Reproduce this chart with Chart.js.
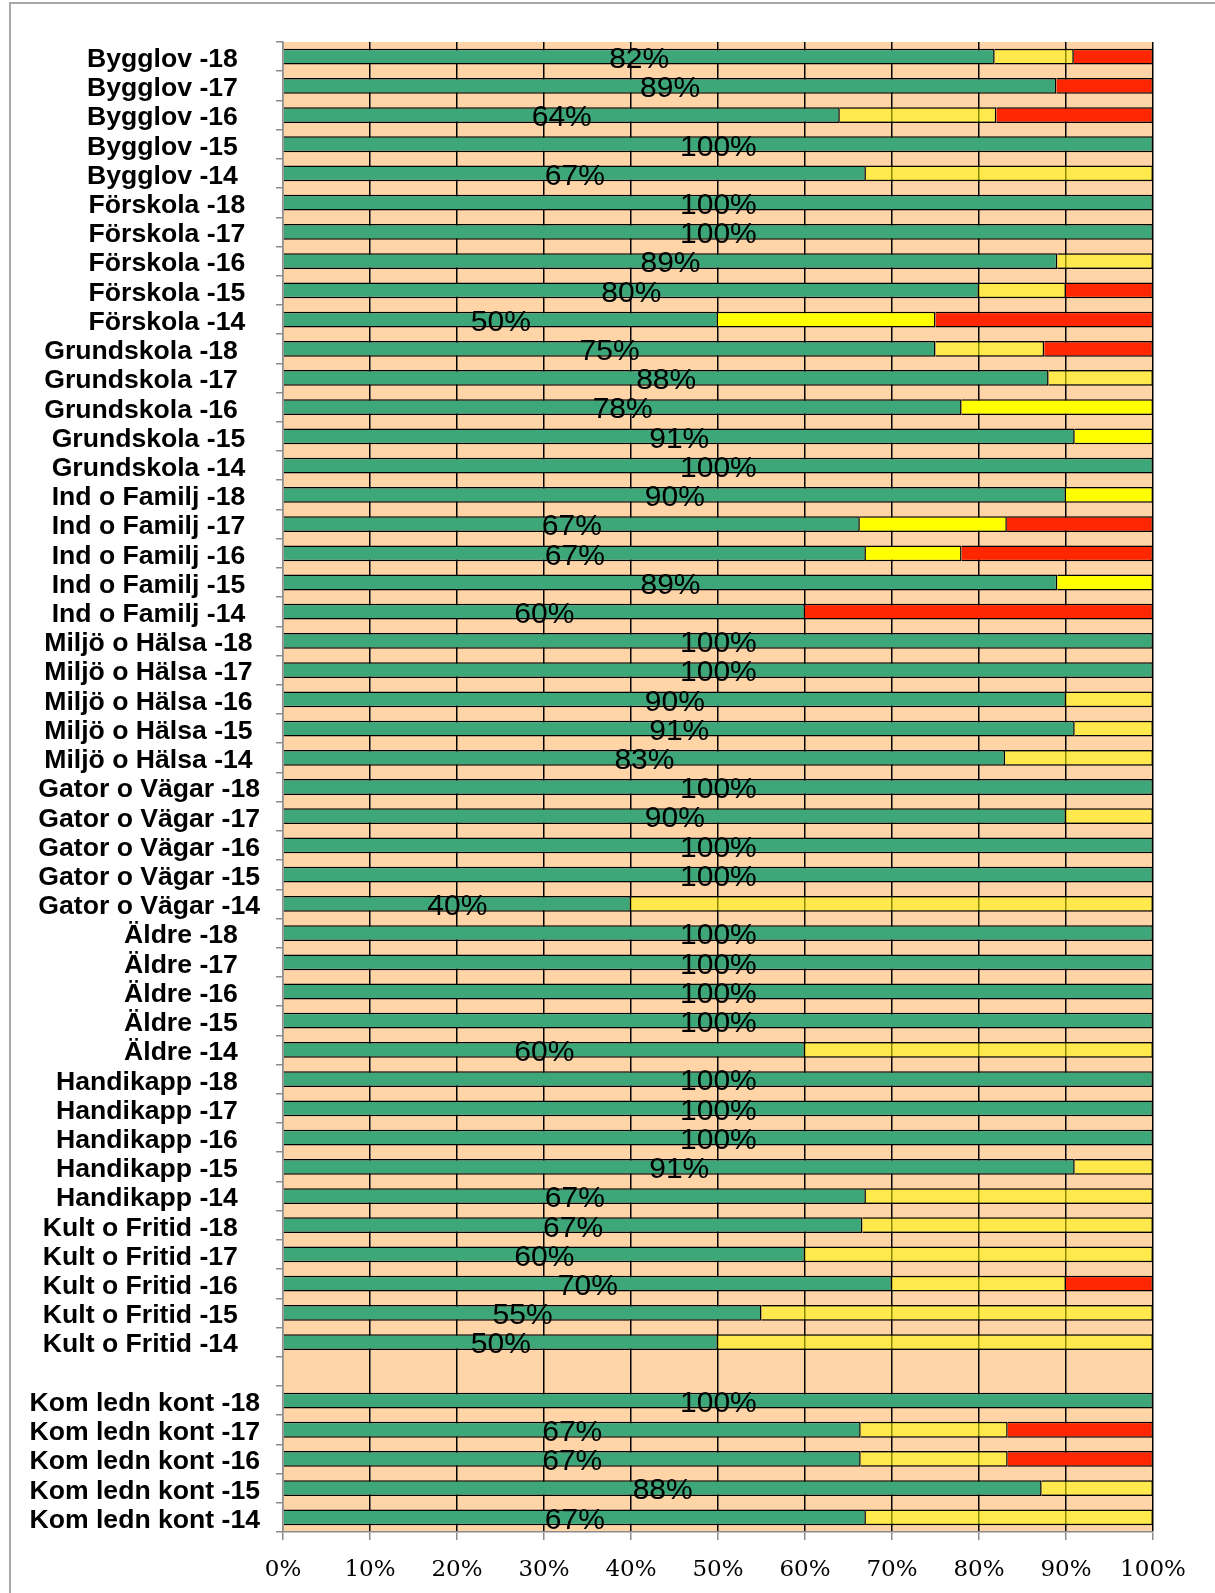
<!DOCTYPE html>
<html>
<head>
<meta charset="utf-8">
<script src="https://cdn.jsdelivr.net/npm/chart.js@4"></script>
<style>
html,body{margin:0;padding:0;background:#fff;overflow:hidden;width:1215px;height:1593px}
#frame{position:absolute;left:9px;top:2px;width:1300px;height:1700px;border:2px solid #A8A8A8;box-sizing:border-box}
#wrap{position:absolute;left:0;top:0;width:1215px;height:1593px}
</style>
</head>
<body>
<div id="frame"></div>
<div id="wrap"><canvas id="c" width="1215" height="1593"></canvas></div>
<script>
// ---------- DATA ----------
const categories = [
  'Bygglov -18','Bygglov -17','Bygglov -16','Bygglov -15','Bygglov -14',
  'Förskola -18','Förskola -17','Förskola -16','Förskola -15','Förskola -14',
  'Grundskola -18','Grundskola -17','Grundskola -16','Grundskola -15','Grundskola -14',
  'Ind o Familj -18','Ind o Familj -17','Ind o Familj -16','Ind o Familj -15','Ind o Familj -14',
  'Miljö o Hälsa -18','Miljö o Hälsa -17','Miljö o Hälsa -16','Miljö o Hälsa -15','Miljö o Hälsa -14',
  'Gator o Vägar -18','Gator o Vägar -17','Gator o Vägar -16','Gator o Vägar -15','Gator o Vägar -14',
  'Äldre -18','Äldre -17','Äldre -16','Äldre -15','Äldre -14',
  'Handikapp -18','Handikapp -17','Handikapp -16','Handikapp -15','Handikapp -14',
  'Kult o Fritid -18','Kult o Fritid -17','Kult o Fritid -16','Kult o Fritid -15','Kult o Fritid -14',
  '',
  'Kom ledn kont -18','Kom ledn kont -17','Kom ledn kont -16','Kom ledn kont -15','Kom ledn kont -14'
];
const greenValues = [
  81.8, 88.9, 64, 100, 67,
  100, 100, 89, 80, 50,
  75, 88, 78, 91, 100,
  90, 66.3, 67, 89, 60,
  100, 100, 90, 91, 83,
  100, 90, 100, 100, 40,
  100, 100, 100, 100, 60,
  100, 100, 100, 91, 67,
  66.6, 60, 70, 55, 50,
  null,
  100, 66.4, 66.4, 87.2, 67
];
const yellowValues = [
  9.1, 0, 18, 0, 33,
  0, 0, 11, 10, 25,
  12.5, 12, 22, 9, 0,
  10, 16.9, 11, 11, 0,
  0, 0, 10, 9, 17,
  0, 10, 0, 0, 60,
  0, 0, 0, 0, 40,
  0, 0, 0, 9, 33,
  33.4, 40, 20, 45, 50,
  null,
  0, 16.9, 16.9, 12.8, 33
];
const redValues = [
  9.1, 11.1, 18, 0, 0,
  0, 0, 0, 10, 25,
  12.5, 0, 0, 0, 0,
  0, 16.8, 22, 0, 40,
  0, 0, 0, 0, 0,
  0, 0, 0, 0, 0,
  0, 0, 0, 0, 0,
  0, 0, 0, 0, 0,
  0, 0, 10, 0, 0,
  null,
  0, 16.7, 16.7, 0, 0
];
// percentages printed on the green bars
const shownPercent = [
  82, 89, 64, 100, 67,
  100, 100, 89, 80, 50,
  75, 88, 78, 91, 100,
  90, 67, 67, 89, 60,
  100, 100, 90, 91, 83,
  100, 90, 100, 100, 40,
  100, 100, 100, 100, 60,
  100, 100, 100, 91, 67,
  67, 60, 70, 55, 50,
  null,
  100, 67, 67, 88, 67
];
const xTickValues = [0, 10, 20, 30, 40, 50, 60, 70, 80, 90, 100];

// ---------- STYLE ----------
const GREEN = '#3DA77A';
const RED = '#FF2600';
const YELLOW_SOLID = '#FFFF00';
const YELLOW_SOFT = 'rgba(255,250,0,0.55)';
const PEACH = '#FFD5A8';
const solidYellowRows = ['Förskola -14','Grundskola -16','Grundskola -15',
  'Ind o Familj -18','Ind o Familj -17','Ind o Familj -16','Ind o Familj -15'];
// trailing space count per label (label right edges vary in the original)
const labelPad = {
  'Bygglov':3,'Förskola':2,'Grundskola -18':3,'Grundskola -17':3,'Grundskola -16':3,
  'Grundskola -15':2,'Grundskola -14':2,'Ind o Familj':2,'Miljö o Hälsa':1,
  'Gator o Vägar':0,'Äldre':3,'Handikapp':3,'Kult o Fritid':3,'Kom ledn kont':0
};
function padFor(lbl){
  if (lbl in labelPad) return labelPad[lbl];
  const g = lbl.replace(/ -\d+$/, '');
  return labelPad[g] || 0;
}
const nz = v => (v === 0 || v === null) ? null : v;

const bgPlugin = {
  id: 'plotBg',
  beforeDraw(chart) {
    const a = chart.chartArea, c = chart.ctx;
    c.save();
    c.fillStyle = PEACH;
    c.fillRect(a.left, a.top, a.right - a.left, a.bottom - a.top);
    c.restore();
  }
};
const labelPlugin = {
  id: 'greenLabels',
  afterDatasetsDraw(chart) {
    const meta = chart.getDatasetMeta(0), c = chart.ctx;
    c.save();
    c.font = '30px "Liberation Sans", Arial, sans-serif';
    c.fillStyle = '#000';
    c.textAlign = 'center';
    c.textBaseline = 'middle';
    meta.data.forEach((el, i) => {
      if (shownPercent[i] === null || greenValues[i] === null) return;
      const x = (el.base + el.x) / 2;
      c.fillText(shownPercent[i] + '%', x, el.y + 3);
    });
    c.restore();
  }
};

const ctx = document.getElementById('c').getContext('2d');
new Chart(ctx, {
  type: 'bar',
  data: {
    labels: categories,
    datasets: [
      { label: 'Grön', data: greenValues.map(nz), backgroundColor: GREEN,
        borderColor: '#000', borderWidth: 1.5 },
      { label: 'Gul', data: yellowValues.map(nz),
        backgroundColor: categories.map(c => solidYellowRows.includes(c) ? YELLOW_SOLID : YELLOW_SOFT),
        borderColor: '#000', borderWidth: 1.5 },
      { label: 'Röd', data: redValues.map(nz), backgroundColor: RED,
        borderColor: '#000', borderWidth: 1.5 }
    ]
  },
  options: {
    indexAxis: 'y',
    responsive: false,
    animation: false,
    layout: { padding: { top: 42, right: 62, left: 0, bottom: 0 } },
    datasets: { bar: { barPercentage: 0.54, categoryPercentage: 1 } },
    plugins: { legend: { display: false }, tooltip: { enabled: false } },
    scales: {
      x: {
        stacked: true, min: 0, max: 100,
        afterBuildTicks: s => { s.ticks = xTickValues.map(v => ({ value: v })); },
        ticks: {
          callback: v => v + '%',
          font: { family: 'DejaVu Serif', size: 23 },
          color: '#000', padding: 16, maxRotation: 0, autoSkip: false
        },
        grid: {
          color: c => c.index === 0 ? '#8c8c8c' : '#000',
          lineWidth: 1.5, tickColor: '#8c8c8c', tickLength: 8
        },
        border: { color: '#8c8c8c', width: 1.5 },
        afterFit: s => { s.height = 61; }
      },
      y: {
        stacked: true,
        ticks: {
          autoSkip: false,
          font: { family: 'Liberation Sans', size: 26.6, weight: 'bold' },
          color: '#000', padding: 16, labelOffset: 3,
          callback: function (v) {
            const l = this.getLabelForValue(v);
            return l ? l + '\u00A0'.repeat(padFor(l)) : '';
          }
        },
        grid: { drawOnChartArea: false, tickColor: '#8c8c8c', tickLength: 7, lineWidth: 1.5, offset: true },
        border: { color: '#8c8c8c', width: 1.5 },
        afterFit: s => { s.width = 283; }
      }
    }
  },
  plugins: [bgPlugin, labelPlugin]
});
</script>
</body>
</html>
